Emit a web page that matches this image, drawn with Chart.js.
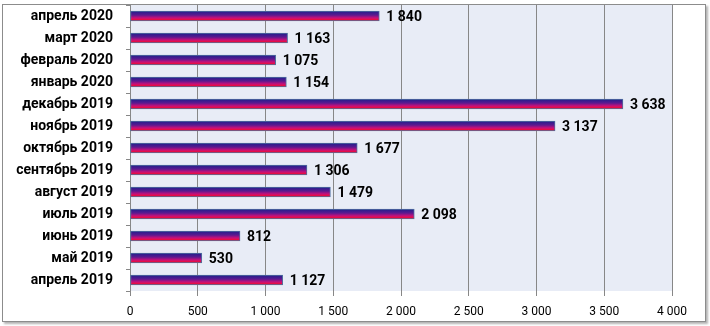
<!DOCTYPE html>
<html lang="ru">
<head>
    <meta charset="UTF-8">
    <title>Динамика по месяцам</title>
    <script src="https://cdn.jsdelivr.net/npm/chart.js"></script>
    <style>
        html, body { margin: 0; padding: 0; background: #fff; }
        #wrap { position: relative; width: 710px; height: 326px; }
        #frame {
            position: absolute; left: 2px; top: 4px; width: 702px; height: 316px;
            border: 1px solid #8c8c8c; box-shadow: 2px 2px 2px rgba(0,0,0,0.3);
        }
        #chart { position: absolute; left: 0; top: 0; }
    </style>
</head>
<body>
<div id="wrap">
    <div id="frame"></div>
    <canvas id="chart" width="710" height="326"></canvas>
</div>
<script>
    // данные (сверху вниз)
    const months = ['апрель 2020', 'март 2020', 'февраль 2020', 'январь 2020', 'декабрь 2019',
        'ноябрь 2019', 'октябрь 2019', 'сентябрь 2019', 'август 2019', 'июль 2019',
        'июнь 2019', 'май 2019', 'апрель 2019'];
    const values = [1840, 1163, 1075, 1154, 3638, 3137, 1677, 1306, 1479, 2098, 812, 530, 1127];
    const xTicks = [0, 500, 1000, 1500, 2000, 2500, 3000, 3500, 4000];

    const fmt = v => String(v).replace(/\B(?=(\d{3})+(?!\d))/g, ' ');
    const FONT = 'Roboto, "Noto Sans", sans-serif';
    const BAR_H = 10;

    // градиент синий -> красный для каждой полосы
    function barFill(c) {
        const chart = c.chart;
        const ys = chart.scales.y;
        const yc = ys && c.dataIndex !== undefined ? ys.getPixelForValue(c.dataIndex) : NaN;
        if (!isFinite(yc)) return '#c00';
        const g = chart.ctx.createLinearGradient(0, yc - BAR_H / 2, 0, yc + BAR_H / 2);
        g.addColorStop(0, '#1e1e8c');
        g.addColorStop(0.4, '#5a1a90');
        g.addColorStop(0.7, '#c8107a');
        g.addColorStop(1, '#ff0a14');
        return g;
    }

    const plotBg = {
        id: 'plotBg',
        beforeDraw(chart) {
            const { ctx, chartArea: a } = chart;
            ctx.save();
            ctx.fillStyle = '#e8ecf6';
            ctx.fillRect(a.left, a.top, a.right - a.left, a.bottom - a.top);
            ctx.restore();
        }
    };

    const valueLabels = {
        id: 'valueLabels',
        afterDatasetsDraw(chart) {
            const { ctx } = chart;
            const meta = chart.getDatasetMeta(0);
            ctx.save();
            ctx.font = 'bold 14px ' + FONT;
            ctx.fillStyle = '#000';
            ctx.textAlign = 'left';
            ctx.textBaseline = 'middle';
            meta.data.forEach((bar, i) => {
                ctx.fillText(fmt(values[i]), bar.x + 7, bar.y + 1);
            });
            ctx.restore();
        }
    };

    new Chart(document.getElementById('chart').getContext('2d'), {
        type: 'bar',
        data: {
            labels: months,
            datasets: [{
                data: values,
                backgroundColor: barFill,
                borderColor: '#4f6f9f',
                borderWidth: 1,
                borderSkipped: false,
                barThickness: BAR_H
            }]
        },
        options: {
            indexAxis: 'y',
            responsive: false,
            animation: false,
            layout: { padding: { left: 0, top: 5, right: 38, bottom: 5 } },
            plugins: { legend: { display: false }, tooltip: { enabled: false } },
            scales: {
                x: {
                    min: 0, max: 4000,
                    afterBuildTicks: s => { s.ticks = xTicks.map(v => ({ value: v })); },
                    afterFit: s => { s.height = 30; s.paddingLeft = 0; s.paddingRight = 0; },
                    grid: { color: '#878787', lineWidth: 1, tickLength: 5, drawTicks: true },
                    border: { display: false },
                    ticks: {
                        color: '#000', padding: 9,
                        font: { family: FONT, size: 12 },
                        callback: v => fmt(v),
                        maxRotation: 0
                    }
                },
                y: {
                    afterFit: s => { s.width = 130; s.paddingTop = 0; s.paddingBottom = 0; },
                    grid: { drawOnChartArea: false, color: '#878787', tickLength: 4, offset: true },
                    border: { display: true, color: '#878787' },
                    ticks: {
                        color: '#000', padding: 13,
                        font: { family: FONT, size: 14, weight: 'bold' }
                    }
                }
            }
        },
        plugins: [plotBg, valueLabels]
    });
</script>
</body>
</html>
